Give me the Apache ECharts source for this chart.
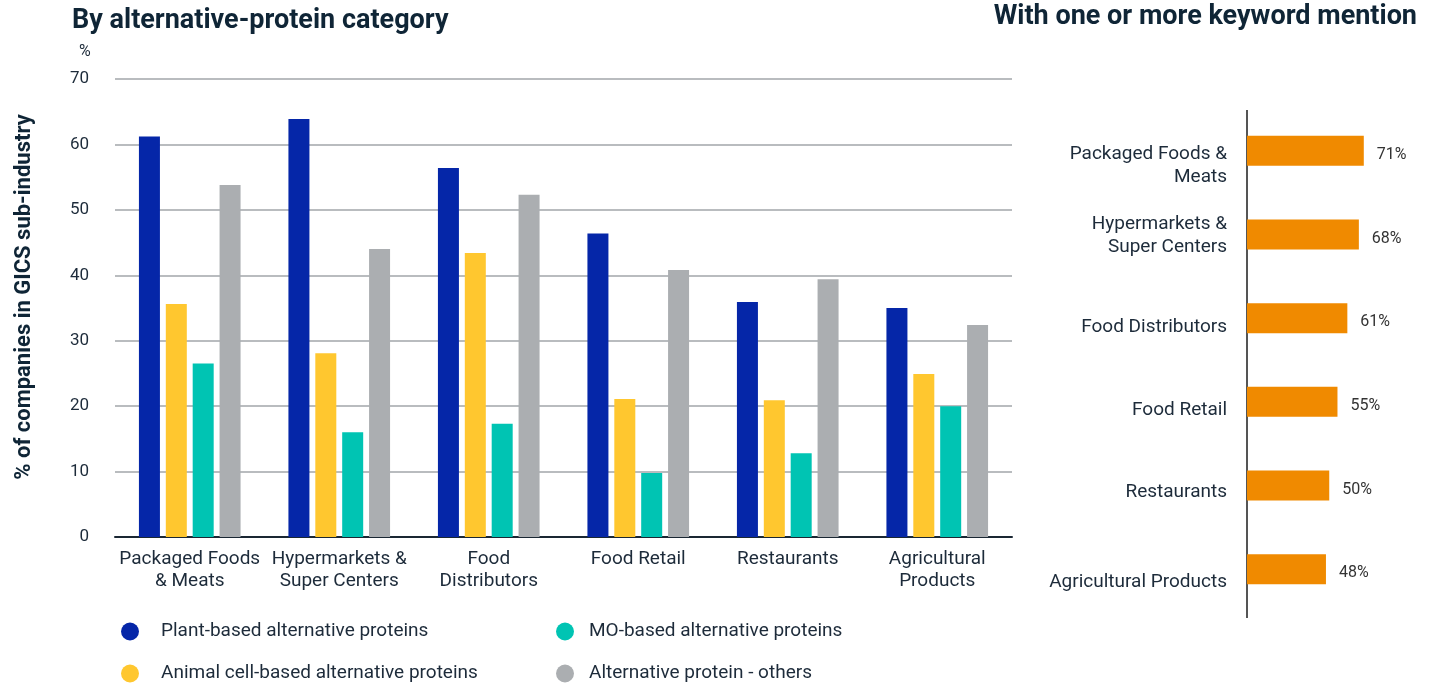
<!DOCTYPE html>
<html>
<head>
<meta charset="utf-8">
<script src="https://cdn.jsdelivr.net/npm/echarts@6/dist/echarts.min.js"></script>
<style>
  html, body { margin: 0; padding: 0; background: #fff; }
  #main { width: 1435px; height: 684px; }
</style>
</head>
<body>
<div id="main"></div>
<script>
// sub-industries (left chart)
var categories = ['Packaged Foods\n& Meats', 'Hypermarkets &\nSuper Centers', 'Food\nDistributors', 'Food Retail', 'Restaurants', 'Agricultural\nProducts'];
var plantBased = [61.2, 63.9, 56.4, 46.4, 35.9, 35.0];
var animalCell = [35.6, 28.1, 43.4, 21.1, 20.9, 24.9];
var moBased = [26.5, 16.0, 17.3, 9.8, 12.8, 20.0];
var others = [53.8, 44.0, 52.3, 40.8, 39.4, 32.4];

// right chart
var mentionCats = ['Packaged Foods &\nMeats', 'Hypermarkets &\nSuper Centers', 'Food Distributors', 'Food Retail', 'Restaurants', 'Agricultural Products'];
var mentionVals = [71, 68, 61, 55, 50, 48];

var txt = '#1d2b3a';
var font = 'Roboto';
// small downward nudge of the right-hand labels, per row
var labelShift = [15, 1, 9, 8, 7, 13];

var chart = echarts.init(document.getElementById('main'));

function barSeries(name, data, color) {
    return {
        name: name,
        type: 'bar',
        xAxisIndex: 0,
        yAxisIndex: 0,
        barWidth: 21,
        barGap: '28%',
        itemStyle: { color: color },
        data: data
    };
}

function oneLegend(name, left, top, pad) {
    return {
        left: left, top: top,
        itemWidth: 18, itemHeight: 18, icon: 'circle',
        textStyle: { fontSize: 19, color: txt, padding: [0, 0, 0, pad] },
        data: [name]
    };
}

var rich = {};
labelShift.forEach(function (s, i) {
    rich['r' + i] = { fontSize: 19, color: txt, lineHeight: 23, padding: [s * 2, 0, 0, 0] };
});

var option = {
    textStyle: { fontFamily: font },
    animation: false,
    title: [{
        text: 'By alternative-protein category',
        left: 67, top: 3,
        textStyle: { fontSize: 27, fontWeight: 'bold', color: '#0f2536', fontFamily: font }
    }, {
        text: 'With one or more keyword mention',
        right: 13, top: -1,
        textStyle: { fontSize: 27, fontWeight: 'bold', color: '#0f2536', fontFamily: font }
    }],
    graphic: [{
        type: 'text', left: 79, top: 44,
        style: { text: '%', fontSize: 16, fill: txt, fontFamily: font }
    }, {
        // vertical baseline of the right chart
        type: 'line',
        shape: { x1: 1247, y1: 110, x2: 1247, y2: 618 },
        style: { stroke: '#555', lineWidth: 2 }
    }],
    legend: [
        oneLegend('Plant-based alternative proteins', 116, 617, 17),
        oneLegend('Animal cell-based alternative proteins', 116, 659, 17),
        oneLegend('MO-based alternative proteins', 551, 617, 10),
        oneLegend('Alternative protein - others', 551, 659, 10)
    ],
    grid: [
        { left: 115, right: 423, top: 79, bottom: 147 },
        { left: 1247, width: 164.5, top: 109, height: 502 }
    ],
    xAxis: [{
        type: 'category', gridIndex: 0, data: categories,
        axisLine: { lineStyle: { color: '#1a2733', width: 2 } },
        axisTick: { show: false },
        axisLabel: { fontSize: 19, color: txt, margin: 11, lineHeight: 22, interval: 0 }
    }, {
        type: 'value', gridIndex: 1, min: 0, max: 100,
        show: false
    }],
    yAxis: [{
        type: 'value', gridIndex: 0, min: 0, max: 70, interval: 10,
        name: '% of companies in GICS sub-industry',
        nameLocation: 'middle', nameGap: 80,
        nameTextStyle: { fontSize: 22, fontWeight: 'bold', color: '#0f2536', padding: [0, 0, 0, 22] },
        axisLine: { show: false },
        axisTick: { show: false },
        axisLabel: { fontSize: 17, color: txt, margin: 26 },
        splitLine: { lineStyle: { color: '#b9bcbf', width: 2 } }
    }, {
        type: 'category', gridIndex: 1, data: mentionCats, inverse: true,
        axisLine: { show: false },
        axisTick: { show: false },
        axisLabel: {
            margin: 20,
            formatter: function (v, i) {
                return v.split('\n').map(function (l) { return '{r' + i + '|' + l + '}'; }).join('\n');
            },
            rich: rich
        }
    }],
    series: [
        barSeries('Plant-based alternative proteins', plantBased, '#0526a8'),
        barSeries('Animal cell-based alternative proteins', animalCell, '#ffc72f'),
        barSeries('MO-based alternative proteins', moBased, '#00c4b3'),
        barSeries('Alternative protein - others', others, '#abaeb1'),
        {
            name: 'mention',
            type: 'bar',
            xAxisIndex: 1,
            yAxisIndex: 1,
            barWidth: 30,
            itemStyle: { color: '#f08a00' },
            label: {
                show: true, position: 'right', distance: 13, offset: [0, 4],
                fontSize: 16, color: '#333',
                formatter: function (p) { return p.value + '%'; }
            },
            data: mentionVals
        }
    ]
};

chart.setOption(option);
</script>
</body>
</html>
